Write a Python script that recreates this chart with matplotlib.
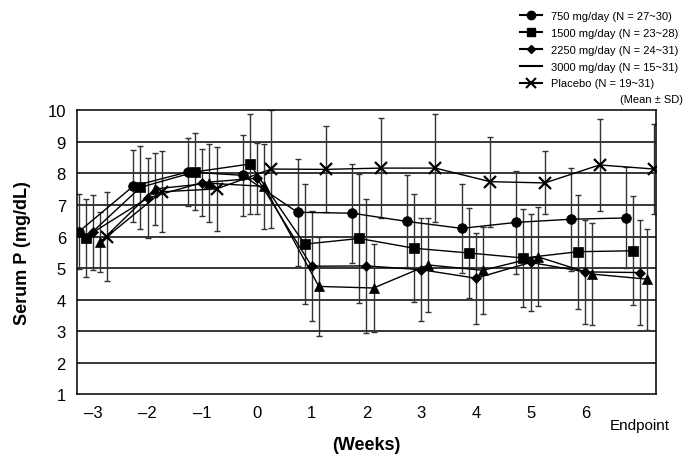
import matplotlib.pyplot as plt
from matplotlib.lines import Line2D
import numpy as np

plt.rcParams['font.family'] = ['Liberation Sans', 'DejaVu Sans']

# time points: weeks -3..6 plus endpoint (drawn at 7)
weeks = [-3, -2, -1, 0, 1, 2, 3, 4, 5, 6, 7]
tick_labels = ['–3', '–2', '–1', '0', '1', '2', '3', '4', '5', '6']

# mean serum P (mg/dL)
mean_750 = [6.15, 7.60, 8.05, 7.94, 6.77, 6.74, 6.48, 6.26, 6.45, 6.55, 6.59]
mean_1500 = [5.95, 7.56, 8.05, 8.30, 5.76, 5.94, 5.63, 5.48, 5.32, 5.52, 5.55]
mean_2250 = [6.13, 7.22, 7.71, 7.85, 5.06, 5.07, 4.95, 4.68, 5.18, 4.88, 4.86]
mean_3000 = [5.82, 7.51, 7.69, 7.59, 4.42, 4.37, 5.10, 4.93, 5.36, 4.81, 4.65]
mean_placebo = [6.00, 7.42, 7.51, 8.14, 8.13, 8.17, 8.17, 7.74, 7.70, 8.27, 8.14]

# standard deviations
sd_750 = [1.19, 1.13, 1.08, 1.29, 1.70, 1.57, 1.46, 1.42, 1.63, 1.63, 1.60]
sd_1500 = [1.23, 1.31, 1.22, 1.59, 1.91, 2.04, 1.71, 1.44, 1.55, 1.81, 1.73]
sd_2250 = [1.18, 1.26, 1.07, 1.13, 1.75, 2.13, 1.63, 1.44, 1.54, 1.64, 1.67]
sd_3000 = [0.95, 1.13, 1.24, 1.34, 1.58, 1.40, 1.50, 1.37, 1.57, 1.61, 1.60]
sd_placebo = [1.40, 1.29, 1.33, 1.87, 1.36, 1.58, 1.71, 1.43, 1.00, 1.46, 1.44]

labels = ['750 mg/day (N = 27~30)', '1500 mg/day (N = 23~28)',
          '2250 mg/day (N = 24~31)', '3000 mg/day (N = 15~31)',
          'Placebo (N = 19~31)']

series = [
    (mean_750, sd_750, 'o', 7, -2),
    (mean_1500, sd_1500, 's', 7, -1),
    (mean_2250, sd_2250, 'D', 5.5, 0),
    (mean_3000, sd_3000, '^', 6.5, 1),
    (mean_placebo, sd_placebo, 'x', 8, 2),
]

fig = plt.figure(figsize=(7, 4.64), dpi=100)
ax = fig.add_axes([0.110, 0.148, 0.827, 0.612])

step = 0.13
for (m, s, mk, ms, k) in series:
    x = np.array(weeks) + k * step
    ax.errorbar(x, m, yerr=s, fmt='none', ecolor='#333333', elinewidth=1,
                capsize=2.5, capthick=1, zorder=2)
    ax.plot(x, m, color='black', lw=1, marker=mk, markersize=ms,
            markeredgewidth=1.6 if mk == 'x' else 0.5, zorder=3)

ax.set_xlim(-3.29, 7.29)
ax.set_ylim(1, 10)
ax.set_yticks(range(1, 11))
ax.set_xticks(weeks[:-1])
ax.set_xticklabels(tick_labels)
ax.tick_params(length=0, labelsize=12, pad=8)
ax.text(7, -0.085, 'Endpoint', transform=ax.get_xaxis_transform(),
        ha='center', va='top', fontsize=11)
for yv in range(2, 10):
    ax.axhline(yv, color='black', lw=1.1, zorder=1)
for sp in ax.spines.values():
    sp.set_linewidth(1.1)

ax.set_ylabel('Serum P (mg/dL)', fontsize=13, fontweight='bold', labelpad=12)
ax.set_xlabel('(Weeks)', fontsize=13, fontweight='bold', labelpad=11)

handles = [
    Line2D([], [], color='black', lw=1.5, marker='o', markersize=6),
    Line2D([], [], color='black', lw=1.5, marker='s', markersize=6),
    Line2D([], [], color='black', lw=1.5, marker='D', markersize=4),
    Line2D([], [], color='black', lw=1.5),
    Line2D([], [], color='black', lw=1.5, marker='x', markersize=7, markeredgewidth=1.5),
]
fig.legend(handles, labels, loc='upper right', bbox_to_anchor=(0.975, 0.984),
           frameon=False, fontsize=8, handlelength=2, handletextpad=0.8,
           labelspacing=0.62, borderaxespad=0)
fig.text(0.976, 0.785, '(Mean ± SD)', ha='right', va='center', fontsize=8)

fig.savefig('out.png', dpi=100)
